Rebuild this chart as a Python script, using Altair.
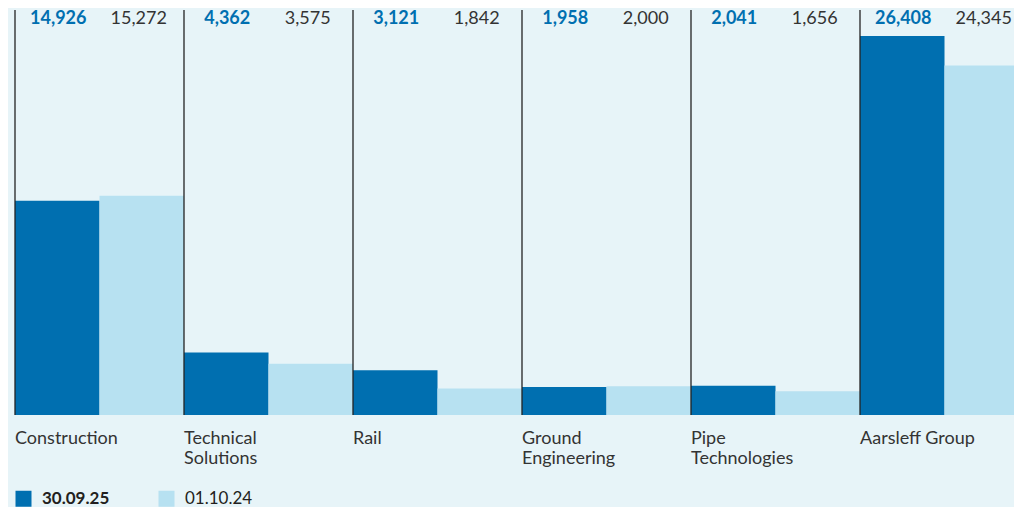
import altair as alt
import pandas as pd

categories = ["Construction", "Technical Solutions", "Rail", "Ground Engineering",
              "Pipe Technologies", "Aarsleff Group"]
cat_labels = ["Construction", "Technical\nSolutions", "Rail", "Ground\nEngineering",
              "Pipe\nTechnologies", "Aarsleff Group"]
series = ["30.09.25", "01.10.24"]
values_2025 = [14926, 4362, 3121, 1958, 2041, 26408]
values_2024 = [15272, 3575, 1842, 2000, 1656, 24345]

rows = []
for i, (c, a, b) in enumerate(zip(categories, values_2025, values_2024)):
    for s, v in enumerate((a, b)):
        rows.append({"category": c, "idx": i, "s": s, "series": series[s],
                     "value": v, "label": f"{v:,}"})
df = pd.DataFrame(rows)
cat_df = pd.DataFrame({"category": categories, "idx": range(len(categories)),
                       "catlabel": cat_labels})

DARK = "#006fb0"
LIGHT = "#b7e1f1"
BG = "#e7f4f8"
FONT = "Lato"

W = 999
H = 405
GROUP_PX = 169  # width of one category group

xscale = alt.Scale(domain=[0, W / GROUP_PX], nice=False, zero=False)
yscale = alt.Scale(domain=[0, 28220], nice=False, zero=True)

base = alt.Chart(df).transform_calculate(
    x0="datum.idx + datum.s * 0.5",
    x1="datum.idx + datum.s * 0.5 + 0.5",
    xc="datum.idx + datum.s * 0.5 + 0.25",
)

bars = base.mark_bar(clip=True).encode(
    x=alt.X("x0:Q", scale=xscale, axis=None),
    x2="x1:Q",
    y=alt.Y("value:Q", scale=yscale, axis=None),
    y2=alt.datum(0),
    color=alt.Color(
        "series:N", sort=series,
        scale=alt.Scale(domain=series, range=[DARK, LIGHT]),
        legend=alt.Legend(
            title=None, orient="none", legendX=0, legendY=480, direction="horizontal",
            symbolType="square", symbolSize=256, symbolStrokeWidth=0, symbolOpacity=1,
            labelFont=FONT, labelFontSize=17, labelColor="#231f20", labelOffset=10,
            columnPadding=48, padding=0,
            labelFontWeight=alt.ExprRef(expr="datum.label == '30.09.25' ? 'bold' : 'normal'"),
        ),
    ),
)

rules = alt.Chart(cat_df).mark_rule(color="#222222", strokeWidth=1.3).encode(
    x=alt.X("idx:Q", scale=xscale, axis=None),
    y=alt.value(0),
    y2=alt.value(H),
)

lab_dark = base.transform_filter(alt.datum.s == 0).mark_text(
    font=FONT, fontSize=18, fontWeight="bold", color=DARK, baseline="alphabetic", dx=1
).encode(
    x=alt.X("xc:Q", scale=xscale, axis=None),
    y=alt.value(14),
    text="label:N",
)

lab_light = base.transform_filter(alt.datum.s == 1).mark_text(
    font=FONT, fontSize=18, color="#333333", baseline="alphabetic", dx=-3
).encode(
    x=alt.X("xc:Q", scale=xscale, axis=None),
    y=alt.value(14),
    text="label:N",
)

cat_text = alt.Chart(cat_df).mark_text(
    font=FONT, fontSize=18, color="#333333", align="left", baseline="alphabetic",
    lineBreak="\n", lineHeight=20,
).encode(
    x=alt.X("idx:Q", scale=xscale, axis=None),
    y=alt.value(H + 29),
    text="catlabel:N",
)

chart = alt.layer(bars, rules, lab_dark, lab_light, cat_text).properties(
    width=W, height=H,
    autosize=alt.AutoSizeParams(type="none"),
    padding={"left": 7, "top": 2, "right": 0, "bottom": 92},
    background=BG,
).configure_view(stroke=None)

chart.save("out.html", embed_options={"renderer": "svg", "actions": False})
